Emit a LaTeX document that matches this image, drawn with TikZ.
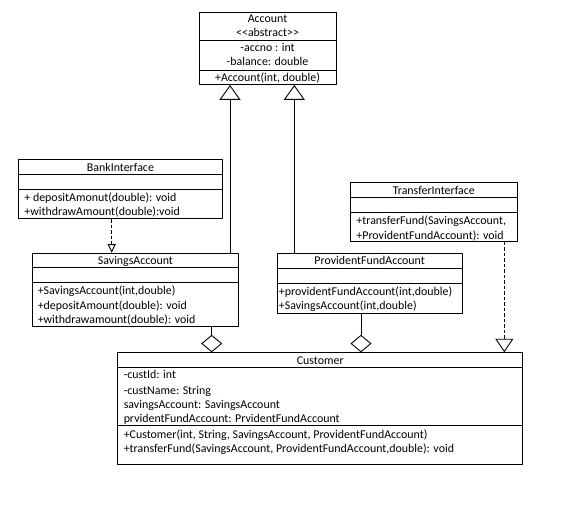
\documentclass[tikz,border=0pt]{standalone}
\usepackage{fontspec}
\newfontfamily\umlfont{Carlito}
\usetikzlibrary{arrows.meta}
\def\cmp#1#2{\draw (#1.west |- 0,#2) -- (#1.east |- 0,#2);}
\begin{document}
\begin{tikzpicture}[x=1pt,y=-1pt, font=\umlfont\fontsize{11.9}{14.3}\selectfont, line join=round, line width=0.9pt,
	box/.style={draw, anchor=north west, inner sep=0pt},
	ttl/.style={anchor=base, inner sep=0pt},
	mem/.style={anchor=base west, inner sep=0pt},
	inh/.style={-{Triangle[open,width=21pt,length=15pt]}},
	impl/.style={dash pattern=on 3.5pt off 2pt},
	agg/.style={{Diamond[open,width=21pt,length=17.5pt]}-}]
\useasboundingbox (0,0) rectangle (577,508);
% Account
\node[box, minimum width=137.2, minimum height=72.3] (account) at (198.5,11.7) {};
\cmp{account}{40.7} \cmp{account}{70}
\node[ttl] (acctitle) at (account.north |- 0,23) {Account};
\node[ttl] (accstereo) at (account.north |- 0,37) {<<abstract>>};
\node[ttl] (accno) at (account.north |- 0,52) {-accno : int};
\node[ttl] (accbal) at (account.north |- 0,66) {-balance: double};
\node[ttl] (accctor) at (account.north |- 0,81.5) {+Account(int, double)};
% BankInterface
\node[box, minimum width=203.4, minimum height=59] (bank) at (18.3,159.3) {};
\cmp{bank}{174.3} \cmp{bank}{189.3}
\node[ttl] (banktitle) at (bank.north |- 0,171.3) {BankInterface};
\node[mem] (bankdep) at (24,201.5) {+ depositAmonut(double): void};
\node[mem] (bankwd) at (24,215.5) {+withdrawAmount(double):void};
% SavingsAccount
\node[box, minimum width=206.6, minimum height=73] (savings) at (31.7,252.7) {};
\cmp{savings}{267.3} \cmp{savings}{282.3}
\node[ttl] (savtitle) at (savings.north |- 0,264.5) {SavingsAccount};
\node[mem] (savctor) at (37.3,294.5) {+SavingsAccount(int,double)};
\node[mem] (savdep) at (37.3,309) {+depositAmount(double): void};
\node[mem] (savwd) at (37.3,323.5) {+withdrawamount(double): void};
% ProvidentFundAccount
\node[box, minimum width=185, minimum height=59.4] (provident) at (276.7,253.3) {};
\cmp{provident}{268.3} \cmp{provident}{283.3}
\node[ttl] (pftitle) at (provident.north |- 0,264.5) {ProvidentFundAccount};
\node[mem] (pfctor) at (278.5,295) {+providentFundAccount(int,double)};
\node[mem] (pfsav) at (278.5,309.5) {+SavingsAccount(int,double)};
% TransferInterface
\node[box, minimum width=166.7, minimum height=58.7] (transfer) at (350,182.3) {};
\cmp{transfer}{197.7} \cmp{transfer}{212.3}
\node[ttl] (trtitle) at (transfer.north |- 0,194) {TransferInterface};
\node[mem] (trfund) at (356,224.5) {+transferFund(SavingsAccount,};
\node[mem] (trpf) at (356,239) {+ProvidentFundAccount): void};
% Customer
\node[box, minimum width=405, minimum height=111.7] (customer) at (117.3,352.3) {};
\cmp{customer}{367.7} \cmp{customer}{425}
\node[ttl] (custtitle) at (customer.north |- 0,364) {Customer};
\node[mem] (custid) at (123.3,378.3) {-custId: int};
\node[mem] (custname) at (123.3,394) {-custName: String};
\node[mem] (custsav) at (123.3,408.3) {savingsAccount: SavingsAccount};
\node[mem] (custpf) at (123.3,422.3) {prvidentFundAccount: PrvidentFundAccount};
\node[mem] (custctor) at (123.3,438.3) {+Customer(int, String, SavingsAccount, ProvidentFundAccount)};
\node[mem] (custfund) at (123.3,452.3) {+transferFund(SavingsAccount, ProvidentFundAccount,double): void};
% relations
\coordinate (xsav) at (230,0); \coordinate (xpf) at (294.3,0); \coordinate (xbank) at (111.7,0);
\coordinate (xtr) at (504.3,0); \coordinate (xagg1) at (211.7,0); \coordinate (xagg2) at (361,0);
\draw[inh] (xsav |- savings.north) -- (xsav |- account.south);
\draw[inh] (xpf |- provident.north) -- (xpf |- account.south);
\draw[impl, -{Triangle[open,width=8pt,length=8.5pt]}] (xbank |- bank.south) -- (xbank |- savings.north);
\draw[impl, -{Triangle[open,width=18pt,length=13.5pt]}] (xtr |- transfer.south) -- (xtr |- customer.north);
\draw[agg] (xagg1 |- customer.north) -- (xagg1 |- savings.south);
\draw[agg] (xagg2 |- customer.north) -- (xagg2 |- provident.south);
\end{tikzpicture}
\end{document}
